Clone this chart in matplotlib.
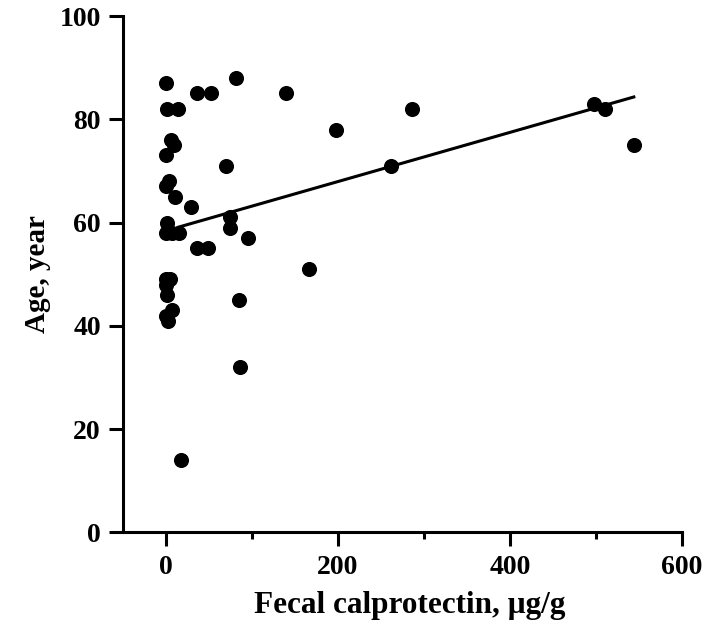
import matplotlib
matplotlib.use('Agg')
import matplotlib.pyplot as plt
import numpy as np

# fecal calprotectin (ug/g) vs age (years)
calpro = [0, 1, 14, 81, 36, 52, 140, 286, 198, 6, 9, 0, 70, 262, 0, 4, 10, 29,
          1, 0, 7, 15, 74, 74, 95, 36, 49, 166, 0, 5, 0, 1, 85, 7, 0, 2, 86, 17,
          498, 511, 544]
age = [87, 82, 82, 88, 85, 85, 85, 82, 78, 76, 75, 73, 71, 71, 67, 68, 65, 63,
       60, 58, 58, 58, 61, 59, 57, 55, 55, 51, 49, 49, 48, 46, 45, 43, 42, 41, 32, 14,
       83, 82, 75]

# regression line as drawn in the original
fit_slope = 0.0476
fit_intercept = 58.43
fit_start = 14

plt.rcParams['font.family'] = ['Liberation Serif', 'DejaVu Serif']
plt.rcParams['font.weight'] = 'bold'

fig = plt.figure(figsize=(7.07, 6.33), dpi=100)
ax = fig.add_axes([0.174, 0.1588, 0.7906, 0.8159])

ax.scatter(calpro, age, s=118, color='black', zorder=3, linewidths=0)

fx = np.array([fit_start, max(calpro)])
ax.plot(fx, fit_slope * fx + fit_intercept, color='black', linewidth=2.2, zorder=2)

ax.set_xlim(-50, 600)
ax.set_ylim(0, 100)
ax.set_xticks([0, 200, 400, 600])
ax.set_xticks([100, 300, 500], minor=True)
ax.set_yticks([0, 20, 40, 60, 80, 100])

for s in ['top', 'right']:
    ax.spines[s].set_visible(False)
for s in ['left', 'bottom']:
    ax.spines[s].set_linewidth(2.2)

ax.tick_params(axis='both', which='major', length=10, width=2.2, labelsize=20, pad=6)
ax.tick_params(axis='x', which='minor', length=5, width=2.2)
for lab in ax.get_xticklabels() + ax.get_yticklabels():
    lab.set_fontweight('bold')

ax.set_xlabel('Fecal calprotectin, μg/g', fontsize=22.5, fontweight='bold')
ax.xaxis.set_label_coords(0.513, -0.113)
ax.set_ylabel('Age, year', fontsize=21, fontweight='bold', labelpad=6)

fig.savefig('out.png', dpi=100)
